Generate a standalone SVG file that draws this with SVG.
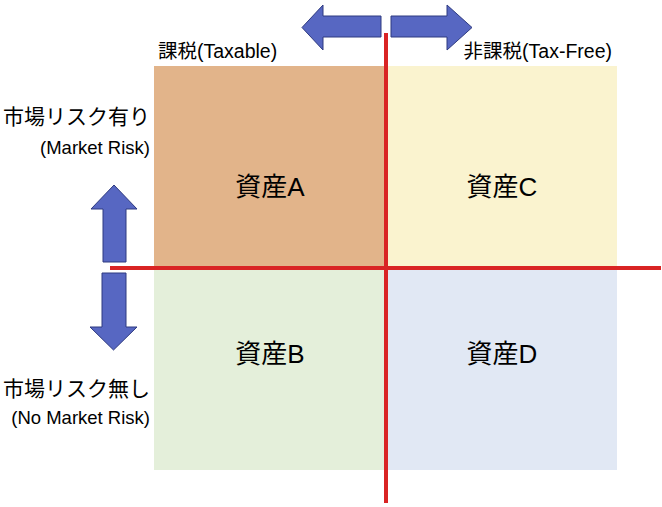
<svg xmlns="http://www.w3.org/2000/svg" width="662" height="507" viewBox="0 0 662 507">
<style>
text{font-family:"Liberation Sans","Noto Sans CJK JP",sans-serif;fill:#000}
.q{font-size:26px;text-anchor:middle}
.h{font-size:19.5px}
.l{font-size:21px;text-anchor:end}
.s{font-size:18.5px;text-anchor:end}
.arr{fill:#5767C2;stroke:#2E3A80;stroke-width:1}
.axis{stroke:#D92424;stroke-width:4;fill:none}
</style>
<rect width="662" height="507" fill="#fff"/>
<g id="nodeA"><rect x="154" y="66" width="232" height="202" fill="#E2B48A"/><text class="q" x="270" y="196">資産A</text></g>
<g id="nodeC"><rect x="386" y="66" width="231" height="202" fill="#FAF3CF"/><text class="q" x="502" y="196">資産C</text></g>
<g id="nodeB"><rect x="154" y="268" width="232" height="202" fill="#E4EFDA"/><text class="q" x="270" y="363">資産B</text></g>
<g id="nodeD"><rect x="386" y="268" width="231" height="202" fill="#E1E8F4"/><text class="q" x="502" y="363">資産D</text></g>
<g id="labels">
<text class="h" x="158" y="58">課税(Taxable)</text>
<text class="h" x="612" y="58" text-anchor="end">非課税(Tax-Free)</text>
<text class="l" x="150" y="124">市場リスク有り</text>
<text class="s" x="150" y="154">(Market Risk)</text>
<text class="l" x="150" y="396">市場リスク無し</text>
<text class="s" x="150" y="424">(No Market Risk)</text>
</g>
<g id="connectors">
<line class="axis" x1="386" y1="33" x2="386" y2="503"/>
<line class="axis" x1="110" y1="268" x2="661" y2="268"/>
<path class="arr" d="M302,27.5 L323,5 L323,16 L381,16 L381,37 L323,37 L323,50 Z"/>
<path class="arr" d="M472,27.5 L447,5 L447,16 L391,16 L391,37 L447,37 L447,50 Z"/>
<path class="arr" d="M114,185 L137,209 L126,209 L126,262 L103,262 L103,209 L91,209 Z"/>
<path class="arr" d="M113.5,350 L137,327 L126,327 L126,273 L102,273 L102,327 L90,327 Z"/>
</g>
</svg>
